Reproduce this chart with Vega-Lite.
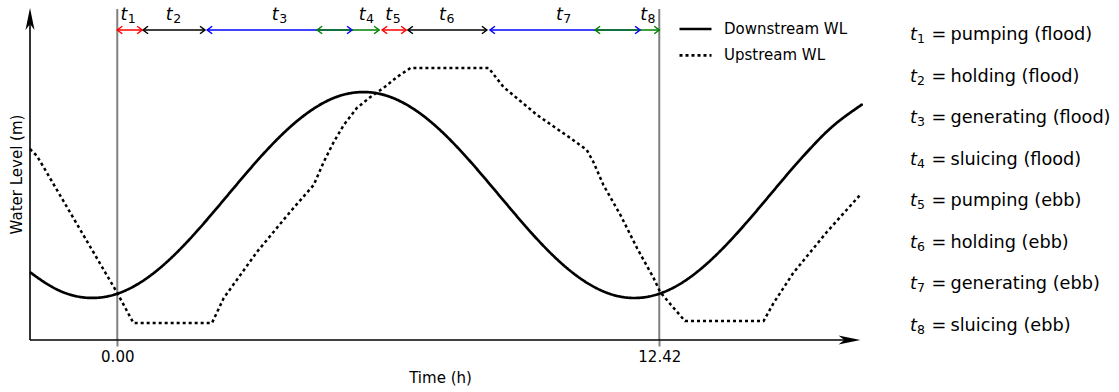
{
  "$schema": "https://vega.github.io/schema/vega-lite/v6.json",
  "width": 1089,
  "height": 332,
  "autosize": {"type": "none"},
  "padding": {"left": 30, "top": 8, "right": 0, "bottom": 52},
  "background": "white",
  "config": {
    "view": {"stroke": null},
    "font": "DejaVu Sans",
    "text": {"font": "DejaVu Sans", "color": "black"}
  },
  "datasets": {
    "levels": [
      {"time": -2, "level": 0.678, "series": "Downstream WL"},
      {"time": -1.5, "level": 0.532, "series": "Downstream WL"},
      {"time": -1, "level": 0.444, "series": "Downstream WL"},
      {"time": -0.5, "level": 0.421, "series": "Downstream WL"},
      {"time": 0, "level": 0.463, "series": "Downstream WL"},
      {"time": 0.5, "level": 0.567, "series": "Downstream WL"},
      {"time": 1, "level": 0.728, "series": "Downstream WL"},
      {"time": 1.5, "level": 0.935, "series": "Downstream WL"},
      {"time": 2, "level": 1.175, "series": "Downstream WL"},
      {"time": 2.5, "level": 1.432, "series": "Downstream WL"},
      {"time": 3, "level": 1.690, "series": "Downstream WL"},
      {"time": 3.5, "level": 1.933, "series": "Downstream WL"},
      {"time": 4, "level": 2.145, "series": "Downstream WL"},
      {"time": 4.5, "level": 2.313, "series": "Downstream WL"},
      {"time": 5, "level": 2.427, "series": "Downstream WL"},
      {"time": 5.5, "level": 2.477, "series": "Downstream WL"},
      {"time": 6, "level": 2.463, "series": "Downstream WL"},
      {"time": 6.5, "level": 2.384, "series": "Downstream WL"},
      {"time": 7, "level": 2.246, "series": "Downstream WL"},
      {"time": 7.5, "level": 2.057, "series": "Downstream WL"},
      {"time": 8, "level": 1.829, "series": "Downstream WL"},
      {"time": 8.5, "level": 1.577, "series": "Downstream WL"},
      {"time": 9, "level": 1.318, "series": "Downstream WL"},
      {"time": 9.5, "level": 1.066, "series": "Downstream WL"},
      {"time": 10, "level": 0.839, "series": "Downstream WL"},
      {"time": 10.5, "level": 0.651, "series": "Downstream WL"},
      {"time": 11, "level": 0.514, "series": "Downstream WL"},
      {"time": 11.5, "level": 0.436, "series": "Downstream WL"},
      {"time": 12, "level": 0.423, "series": "Downstream WL"},
      {"time": 12.5, "level": 0.475, "series": "Downstream WL"},
      {"time": 13, "level": 0.589, "series": "Downstream WL"},
      {"time": 13.5, "level": 0.759, "series": "Downstream WL"},
      {"time": 14, "level": 0.972, "series": "Downstream WL"},
      {"time": 14.5, "level": 1.215, "series": "Downstream WL"},
      {"time": 15, "level": 1.473, "series": "Downstream WL"},
      {"time": 15.5, "level": 1.730, "series": "Downstream WL"},
      {"time": 16, "level": 1.970, "series": "Downstream WL"},
      {"time": 16.5, "level": 2.176, "series": "Downstream WL"},
      {"time": 17, "level": 2.335, "series": "Downstream WL"},
      {"time": 17.02, "level": 2.342, "series": "Downstream WL"},
      {"time": -2, "level": 1.91, "series": "Upstream WL"},
      {"time": -1.84, "level": 1.84, "series": "Upstream WL"},
      {"time": -1.61, "level": 1.67, "series": "Upstream WL"},
      {"time": 0, "level": 0.47, "series": "Upstream WL"},
      {"time": 0.37, "level": 0.17, "series": "Upstream WL"},
      {"time": 2.17, "level": 0.17, "series": "Upstream WL"},
      {"time": 2.44, "level": 0.42, "series": "Upstream WL"},
      {"time": 3.2, "level": 0.88, "series": "Upstream WL"},
      {"time": 3.96, "level": 1.28, "series": "Upstream WL"},
      {"time": 4.5, "level": 1.55, "series": "Upstream WL"},
      {"time": 4.73, "level": 1.78, "series": "Upstream WL"},
      {"time": 4.96, "level": 1.98, "series": "Upstream WL"},
      {"time": 5.19, "level": 2.15, "series": "Upstream WL"},
      {"time": 5.49, "level": 2.32, "series": "Upstream WL"},
      {"time": 5.8, "level": 2.43, "series": "Upstream WL"},
      {"time": 6.1, "level": 2.52, "series": "Upstream WL"},
      {"time": 6.41, "level": 2.63, "series": "Upstream WL"},
      {"time": 6.72, "level": 2.72, "series": "Upstream WL"},
      {"time": 8.51, "level": 2.72, "series": "Upstream WL"},
      {"time": 8.85, "level": 2.53, "series": "Upstream WL"},
      {"time": 9.62, "level": 2.25, "series": "Upstream WL"},
      {"time": 10.38, "level": 2.02, "series": "Upstream WL"},
      {"time": 10.76, "level": 1.90, "series": "Upstream WL"},
      {"time": 10.91, "level": 1.78, "series": "Upstream WL"},
      {"time": 11.14, "level": 1.55, "series": "Upstream WL"},
      {"time": 11.53, "level": 1.25, "series": "Upstream WL"},
      {"time": 11.91, "level": 0.92, "series": "Upstream WL"},
      {"time": 12.29, "level": 0.62, "series": "Upstream WL"},
      {"time": 12.44, "level": 0.48, "series": "Upstream WL"},
      {"time": 12.75, "level": 0.32, "series": "Upstream WL"},
      {"time": 13.01, "level": 0.19, "series": "Upstream WL"},
      {"time": 14.81, "level": 0.19, "series": "Upstream WL"},
      {"time": 15.04, "level": 0.37, "series": "Upstream WL"},
      {"time": 15.49, "level": 0.67, "series": "Upstream WL"},
      {"time": 16.26, "level": 1.08, "series": "Upstream WL"},
      {"time": 17.02, "level": 1.45, "series": "Upstream WL"}
    ],
    "phases": [
      {"phase": "t1", "n": "1", "kind": "pumping", "description": "pumping (flood)", "start": 0, "end": 0.57, "mid": 0.23},
      {"phase": "t2", "n": "2", "kind": "holding", "description": "holding (flood)", "start": 0.59, "end": 2.01, "mid": 1.27},
      {"phase": "t3", "n": "3", "kind": "generating", "description": "generating (flood)", "start": 2.06, "end": 5.38, "mid": 3.70},
      {"phase": "t4", "n": "4", "kind": "sluicing", "description": "sluicing (flood)", "start": 4.58, "end": 6.0, "mid": 5.69},
      {"phase": "t5", "n": "5", "kind": "pumping", "description": "pumping (ebb)", "start": 6.07, "end": 6.62, "mid": 6.30},
      {"phase": "t6", "n": "6", "kind": "holding", "description": "holding (ebb)", "start": 6.66, "end": 8.47, "mid": 7.53},
      {"phase": "t7", "n": "7", "kind": "generating", "description": "generating (ebb)", "start": 8.54, "end": 11.98, "mid": 10.21},
      {"phase": "t8", "n": "8", "kind": "sluicing", "description": "sluicing (ebb)", "start": 10.95, "end": 12.42, "mid": 12.14}
    ],
    "cycle": [{"time": 0}, {"time": 12.42}]
  },
  "resolve": {"scale": {"y": "independent"}},
  "layer": [
    {
      "layer": [
        {
          "data": {"name": "cycle"},
          "mark": {"type": "rule", "color": "#808080", "strokeWidth": 2},
          "encoding": {
            "x": {"field": "time", "type": "quantitative"},
            "y": {"datum": 0},
            "y2": {"datum": 3.31}
          }
        },
        {
          "data": {"name": "levels"},
          "transform": [{"filter": "datum.series === 'Downstream WL'"}],
          "mark": {"type": "line", "color": "black", "strokeWidth": 2.7, "interpolate": "natural"},
          "encoding": {
            "x": {
              "field": "time", "type": "quantitative",
              "scale": {"domain": [-2, 22.955], "nice": false, "zero": false},
              "axis": {
                "title": "Time (h)", "values": [0, 12.42], "format": ".2f",
                "domain": false, "grid": false, "ticks": true,
                "tickColor": "#808080", "tickWidth": 2, "tickSize": 6,
                "labelFontSize": 15, "labelColor": "black", "labelPadding": 3,
                "titleFontSize": 15, "titleFontWeight": "normal", "titleColor": "black",
                "titleX": 410, "titleY": 30, "titleAlign": "center", "titleBaseline": "top"
              }
            },
            "y": {
              "field": "level", "type": "quantitative",
              "scale": {"domain": [0, 3.32], "nice": false, "zero": false},
              "axis": {
                "title": "Water Level (m)", "labels": false, "ticks": false, "domain": false, "grid": false,
                "titleFontSize": 15, "titleFontWeight": "normal", "titleColor": "black", "titlePadding": 6
              }
            },
            "strokeDash": {
              "field": "series", "type": "nominal",
              "scale": {"domain": ["Downstream WL", "Upstream WL"], "range": [[1, 0], [3, 3]]},
              "legend": {
                "orient": "none", "legendX": 648, "legendY": 3.5, "title": null,
                "symbolType": "stroke", "symbolSize": 1024, "symbolStrokeWidth": 2.7,
                "symbolStrokeColor": "black", "labelFontSize": 15, "labelOffset": 11,
                "labelColor": "black", "rowPadding": 0.4, "padding": 0
              }
            }
          }
        },
        {
          "data": {"name": "levels"},
          "transform": [{"filter": "datum.series === 'Upstream WL'"}],
          "mark": {"type": "line", "color": "black", "strokeWidth": 2.5, "interpolate": "linear"},
          "encoding": {
            "x": {"field": "time", "type": "quantitative"},
            "y": {"field": "level", "type": "quantitative"},
            "strokeDash": {"field": "series", "type": "nominal"}
          }
        },
        {
          "data": {"name": "phases"},
          "mark": {"type": "rule", "strokeWidth": 1.5},
          "encoding": {
            "x": {"field": "start", "type": "quantitative"},
            "x2": {"field": "end"},
            "y": {"datum": 3.10},
            "color": {
              "field": "kind", "type": "nominal", "legend": null,
              "scale": {"domain": ["pumping", "holding", "generating", "sluicing"], "range": ["#ff0000", "#000000", "#0000ff", "#008000"]}
            }
          }
        },
        {
          "data": {"name": "phases"},
          "mark": {"type": "point", "shape": "M1,-0.75L0,0L1,0.75", "size": 100, "filled": false, "strokeWidth": 1.5, "opacity": 1},
          "encoding": {
            "x": {"field": "start", "type": "quantitative"},
            "y": {"datum": 3.10},
            "color": {"field": "kind", "type": "nominal", "legend": null}
          }
        },
        {
          "data": {"name": "phases"},
          "mark": {"type": "point", "shape": "M-1,-0.75L0,0L-1,0.75", "size": 100, "filled": false, "strokeWidth": 1.5, "opacity": 1},
          "encoding": {
            "x": {"field": "end", "type": "quantitative"},
            "y": {"datum": 3.10},
            "color": {"field": "kind", "type": "nominal", "legend": null}
          }
        },
        {
          "data": {"name": "phases"},
          "mark": {"type": "text", "text": "t", "fontStyle": "italic", "fontSize": 17.5, "align": "right", "baseline": "alphabetic"},
          "encoding": {
            "x": {"field": "mid", "type": "quantitative"},
            "y": {"datum": 3.20}
          }
        },
        {
          "data": {"name": "phases"},
          "mark": {"type": "text", "fontSize": 12.5, "align": "left", "baseline": "alphabetic", "dx": 0.5, "dy": 3},
          "encoding": {
            "x": {"field": "mid", "type": "quantitative"},
            "y": {"datum": 3.20},
            "text": {"field": "n"}
          }
        },
        {
          "data": {"values": [{}]},
          "mark": {"type": "rule", "color": "black", "strokeWidth": 1.6},
          "encoding": {"x": {"datum": -2}, "y": {"datum": 0}, "y2": {"datum": 3.2}}
        },
        {
          "data": {"values": [{}]},
          "mark": {"type": "rule", "color": "black", "strokeWidth": 1.6},
          "encoding": {"x": {"datum": -2}, "x2": {"datum": 16.8}, "y": {"datum": 0}}
        },
        {
          "data": {"values": [{}]},
          "mark": {"type": "point", "shape": "M0,0L0.45,2.2L0,1.6L-0.45,2.2Z", "size": 400, "filled": true, "color": "black", "opacity": 1, "strokeWidth": 0},
          "encoding": {"x": {"datum": -2}, "y": {"datum": 3.32}}
        },
        {
          "data": {"values": [{}]},
          "mark": {"type": "point", "shape": "M0,0L-2.2,-0.45L-1.6,0L-2.2,0.45Z", "size": 400, "filled": true, "color": "black", "opacity": 1, "strokeWidth": 0},
          "encoding": {"x": {"datum": 17.03}, "y": {"datum": 0}}
        }
      ]
    },
    {
      "data": {"name": "phases"},
      "encoding": {
        "x": {"datum": 18.165},
        "y": {"field": "phase", "type": "ordinal", "axis": null, "scale": {"type": "point", "padding": 0.5}}
      },
      "layer": [
        {"mark": {"type": "text", "text": "t", "fontStyle": "italic", "fontSize": 17.7, "align": "left", "baseline": "alphabetic", "dy": 11.25}},
        {"mark": {"type": "text", "fontSize": 12.5, "align": "left", "baseline": "alphabetic", "dx": 7, "dy": 14.25}, "encoding": {"text": {"field": "n"}}},
        {"mark": {"type": "text", "text": "=", "fontSize": 17.7, "align": "left", "baseline": "alphabetic", "dx": 21.5, "dy": 11.25}},
        {"mark": {"type": "text", "fontSize": 17.7, "align": "left", "baseline": "alphabetic", "dx": 40.5, "dy": 11.25}, "encoding": {"text": {"field": "description"}}}
      ]
    }
  ]
}
